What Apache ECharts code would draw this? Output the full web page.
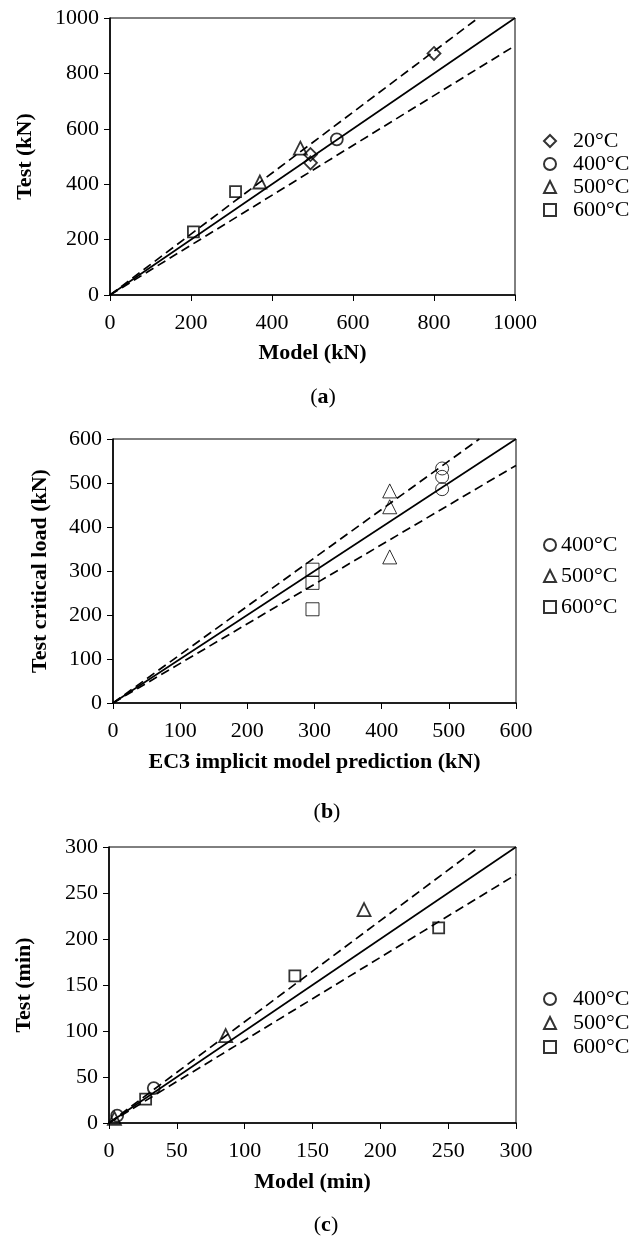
<!DOCTYPE html>
<html><head><meta charset="utf-8">
<script src="https://cdn.jsdelivr.net/npm/echarts@6/dist/echarts.min.js"></script>
<style>html,body{margin:0;padding:0;background:#fff;width:633px;height:1236px;overflow:hidden}
.c{position:absolute;left:0;width:633px}</style></head>
<body>
<div id="ca" class="c" style="top:0;height:410px"></div>
<div id="cb" class="c" style="top:410px;height:415px"></div>
<div id="cc" class="c" style="top:825px;height:411px"></div>
<script>
// ---- data ----
const namesA = ['20°C', '400°C', '500°C', '600°C'];
const namesBC = ['400°C', '500°C', '600°C'];
// chart (a): Model (kN) vs Test (kN)
const a20 = [[800, 872], [495, 507], [495, 477]];
const a400 = [[560, 562]];
const a500 = [[470, 530], [370, 408]];
const a600 = [[310, 373], [206, 228]];
// chart (b): EC3 implicit model prediction vs test critical load (kN)
const b400 = [[490, 533], [490, 514], [490, 486]];
const b500 = [[412, 482], [412, 446], [412, 332]];
const b600 = [[297, 303], [297, 273], [297, 213]];
// chart (c): Model (min) vs Test (min)
const c400 = [[33, 38], [6, 8]];
const c500 = [[188, 232], [86, 95], [4, 5]];
const c600 = [[243, 212], [137, 160], [27, 26]];
// reference lines Test = k * Model
const ratios = [1.1, 1.0, 0.9];

const symbolOf = { '20°C': 'diamond', '400°C': 'circle', '500°C': 'triangle', '600°C': 'rect' };
const FONT = '"Liberation Serif", "Times New Roman", serif';

function build(el, cfg) {
  const chart = echarts.init(el, null, { renderer: 'canvas' });
  const series = [];
  cfg.groups.forEach(function (g) {
    series.push({
      type: 'scatter', name: g.name, data: g.data,
      symbol: symbolOf[g.name], symbolSize: cfg.sizes[g.name],
      itemStyle: { color: 'rgba(255,255,255,0)', borderColor: '#000', borderWidth: cfg.bw },
      z: 5
    });
  });
  ratios.forEach(function (k) {
    const end = k >= 1 ? [cfg.max / k, cfg.max] : [cfg.max, cfg.max * k];
    series.push({
      type: 'line', data: [[0, 0], end], symbol: 'none', silent: true,
      lineStyle: { color: '#000', width: 1.7, type: k === 1 ? 'solid' : [9, 5] }, z: 3
    });
  });
  const plain = function (v) { return String(v); };
  const axisCommon = {
    type: 'value', min: 0, max: cfg.max, interval: cfg.interval,
    nameLocation: 'middle',
    nameTextStyle: { fontFamily: FONT, fontWeight: 'bold', fontSize: 22, color: '#000' },
    axisLine: { show: true, onZero: false, lineStyle: { color: '#000', width: 1.6 } },
    axisTick: { show: true, inside: false, length: 6, lineStyle: { color: '#000', width: 1 } },
    axisLabel: { fontFamily: FONT, fontSize: 22, color: '#000', formatter: plain },
    splitLine: { show: false }
  };
  chart.setOption({
    animation: false,
    backgroundColor: '#fff',
    grid: { left: cfg.grid[0], top: cfg.grid[1], width: cfg.grid[2], height: cfg.grid[3],
      show: true, borderColor: '#000', borderWidth: 1, backgroundColor: 'transparent' },
    xAxis: Object.assign({}, axisCommon, { name: cfg.xName, nameGap: cfg.xNameGap,
      axisLabel: Object.assign({}, axisCommon.axisLabel, { margin: cfg.xMargin }) }),
    yAxis: Object.assign({}, axisCommon, { name: cfg.yName, nameGap: cfg.yNameGap,
      axisLabel: Object.assign({}, axisCommon.axisLabel, { margin: cfg.yMargin }) }),
    legend: {
      data: cfg.groups.map(function (g) { return g.name; }),
      orient: 'vertical', left: cfg.legend[0], top: cfg.legend[1], itemGap: cfg.legend[2],
      padding: 0, itemWidth: 12, itemHeight: 12, selectedMode: false,
      textStyle: { fontFamily: FONT, fontSize: 22, color: '#000', padding: [0, 0, 0, cfg.legend[3]] }
    },
    graphic: [{
      type: 'text', x: cfg.tag[1], y: cfg.tag[2],
      style: {
        text: '{n|(}{b|' + cfg.tag[0] + '}{n|)}', align: 'center', verticalAlign: 'middle',
        rich: {
          n: { fontFamily: FONT, fontSize: 22, fill: '#000' },
          b: { fontFamily: FONT, fontSize: 22, fontWeight: 'bold', fill: '#000' }
        }
      }
    }],
    series: series
  });
}

build(document.getElementById('ca'), {
  groups: [{ name: namesA[0], data: a20 }, { name: namesA[1], data: a400 },
           { name: namesA[2], data: a500 }, { name: namesA[3], data: a600 }],
  sizes: { '20°C': 13, '400°C': 12, '500°C': 13, '600°C': 11 }, bw: 1.8,
  max: 1000, interval: 200, grid: [110, 18, 405, 277],
  xName: 'Model (kN)', yName: 'Test (kN)', xNameGap: 47, yNameGap: 74, xMargin: 17, yMargin: 11,
  legend: [543, 130, 1, 12], tag: ['a', 323, 397]
});
build(document.getElementById('cb'), {
  groups: [{ name: namesBC[0], data: b400 }, { name: namesBC[1], data: b500 }, { name: namesBC[2], data: b600 }],
  sizes: { '400°C': 13, '500°C': 14, '600°C': 13 }, bw: 1,
  max: 600, interval: 100, grid: [113, 29, 403, 264],
  xName: 'EC3 implicit model prediction (kN)', yName: 'Test critical load (kN)',
  xNameGap: 48, yNameGap: 62, xMargin: 17, yMargin: 11,
  legend: [543, 124, 9, 0], tag: ['b', 327, 402]
});
build(document.getElementById('cc'), {
  groups: [{ name: namesBC[0], data: c400 }, { name: namesBC[1], data: c500 }, { name: namesBC[2], data: c600 }],
  sizes: { '400°C': 12, '500°C': 13, '600°C': 11 }, bw: 1.8,
  max: 300, interval: 50, grid: [109, 22, 407, 276],
  xName: 'Model (min)', yName: 'Test (min)', xNameGap: 48, yNameGap: 74, xMargin: 17, yMargin: 11,
  legend: [543, 163, 2, 12], tag: ['c', 326, 400]
});
</script>
</body></html>
